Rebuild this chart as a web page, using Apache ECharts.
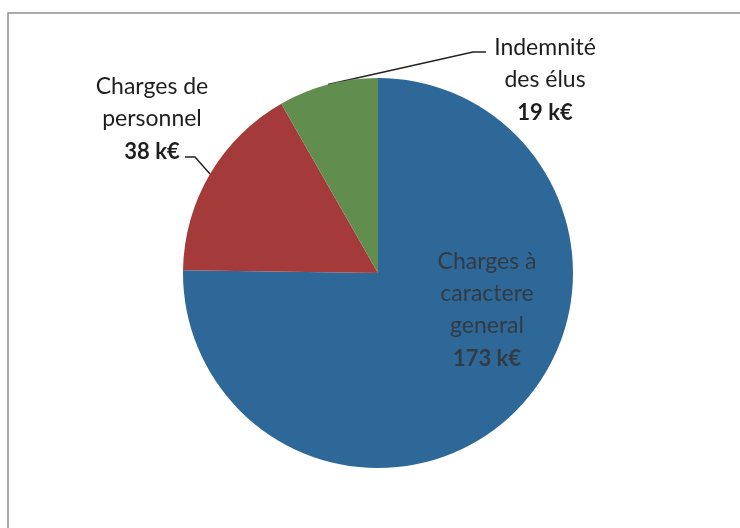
<!DOCTYPE html>
<html><head><meta charset="utf-8">
<script src="https://cdn.jsdelivr.net/npm/echarts@6/dist/echarts.min.js"></script>
<style>html,body{margin:0;padding:0;background:#fff}#c{width:740px;height:528px}</style>
</head><body><div id="c"></div>
<script>
const categories = ['Charges à caractere general', 'Charges de personnel', 'Indemnité des élus'];
const values = [173, 38, 19];
const nameLines = [['Charges à', 'caractere', 'general'], ['Charges de', 'personnel'], ['Indemnité', 'des élus']];
const valueLabels = ['173 k€', '38 k€', '19 k€'];
const colors = ['#2d6898', '#a43a3a', '#618e4e'];

const FONT = 'Lato';
const chart = echarts.init(document.getElementById('c'), null, { renderer: 'canvas' });

function fmt(i) {
  return nameLines[i].map(s => '{n|' + s + '}').join('\n') + '\n{v|' + valueLabels[i] + '}';
}
const outerRich = {
  n: { fontFamily: FONT, fontSize: 23, color: '#1e1e1e', lineHeight: 32 },
  v: { fontFamily: FONT, fontSize: 22, fontWeight: 'bold', color: '#1e1e1e', lineHeight: 34 }
};
const innerRich = {
  n: { fontFamily: FONT, fontSize: 23, color: '#343a42', lineHeight: 32 },
  v: { fontFamily: FONT, fontSize: 22, fontWeight: 'bold', color: '#343a42', lineHeight: 34 }
};
// label placement (layout only)
const labelPos = [
  { x: 487, y: 311, align: 'center' },
  { x: 152, y: 120, align: 'center' },
  { x: 545, y: 81, align: 'center' }
];
// guide-line elbow and end relative to label placement (layout only)
const guide = [
  null,
  { elbow: [43, 37], end: [33, 37] },
  { elbow: [-72, -29], end: [-59, -29] }
];

const data = categories.map((c, i) => ({
  name: c,
  value: values[i],
  itemStyle: { color: colors[i] },
  label: i === 0
    ? { show: true, position: 'inside', formatter: fmt(i), rich: innerRich }
    : { show: true, position: 'outside', formatter: fmt(i), rich: outerRich },
  labelLine: i === 0 ? { show: false } : { show: true, length: 12, length2: 10, lineStyle: { color: '#222', width: 1.5 } }
}));

chart.setOption({
  backgroundColor: '#fff',
  animation: false,
  graphic: [{
    type: 'rect', shape: { x: 8, y: 13, width: 800, height: 600 },
    style: { fill: 'none', stroke: '#8f8f8f', lineWidth: 1.5 }, silent: true, z: -1
  }],
  series: [{
    type: 'pie',
    center: [378, 273],
    radius: 195,
    startAngle: 90,
    clockwise: true,
    data: data,
    itemStyle: { borderWidth: 0 },
    labelLayout: function (p) {
      const i = p.dataIndex;
      const lp = labelPos[i];
      const out = { x: lp.x, y: lp.y, align: lp.align, verticalAlign: 'middle' };
      if (guide[i] && p.labelLinePoints) {
        const s = p.labelLinePoints[0];
        out.labelLinePoints = [
          [s[0], s[1]],
          [lp.x + guide[i].elbow[0], lp.y + guide[i].elbow[1]],
          [lp.x + guide[i].end[0], lp.y + guide[i].end[1]]
        ];
      }
      return out;
    }
  }]
});
</script></body></html>
